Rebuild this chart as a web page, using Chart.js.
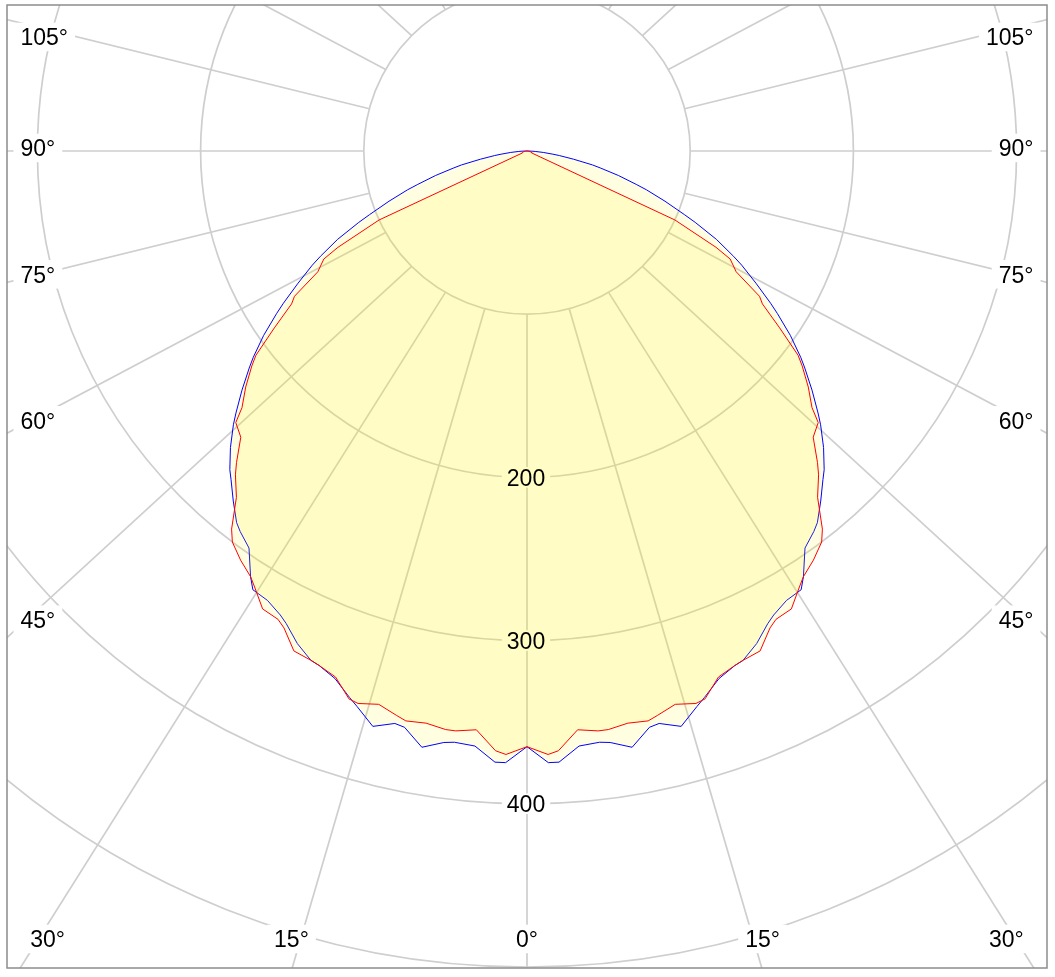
<!DOCTYPE html>
<html>
<head>
<meta charset="utf-8">
<title>Polar intensity diagram</title>
<script src="https://cdn.jsdelivr.net/npm/chart.js@4.4.1/dist/chart.umd.min.js"></script>
<style>
    html, body { margin: 0; padding: 0; background: #ffffff; overflow: hidden; }
    canvas { display: block; }
</style>
</head>
<body>
<canvas id="myChart" width="1055" height="977"></canvas>
<script>
// gamma angles (degrees from nadir) used for both planes
const angles = [0, 2, 3, 5, 7, 8, 10, 12, 13, 15, 17, 18, 20, 22, 23, 25, 27, 28, 30, 32, 33,
    35, 37, 38, 40, 42, 43, 45, 47, 48, 50, 52, 53, 55, 57, 58, 60, 62, 63, 65, 67, 68,
    70, 72, 73, 75, 77, 78, 80, 82, 83, 85, 87, 88, 90];

// C0 - C180 plane (red)
const planeC0 = [365, 370, 368, 356, 358, 358, 356, 357, 355, 351, 354, 353, 343, 340, 339,
    338, 328, 325, 324, 315, 311, 306, 300, 294, 277, 267, 261, 248, 244, 235, 225, 214, 208,
    189, 172, 168, 148, 141, 130, 100, 3, 3, 3, 3, 3, 3, 2, 2, 2, 1, 1, 1, 0, 0, 0];

// C90 - C270 plane (blue)
const planeC90 = [365, 375, 375, 366, 365, 366, 371, 361, 360, 365, 356, 352, 344, 340, 339,
    333, 325, 322, 318, 317, 311, 297, 292, 289, 280, 271, 267, 257, 246, 240, 228, 216, 210,
    197, 183, 176, 162, 149, 142, 128, 112, 104, 90, 77, 70, 58, 46, 41, 29, 20, 16, 10, 5, 3, 0];

const ringValues = [100, 200, 300, 400, 500, 600];
const ringLabels = [200, 300, 400];
const spokeAngles = [0, 15, 30, 45, 60, 75, 90, 105, 120, 135, 150, 165, 180];
const labelAngles = [0, 15, 30, 45, 60, 75, 90, 105];
const angleLabels = ["0°", "15°", "30°", "45°", "60°", "75°", "90°", "105°"];

const FONT = '23px "Liberation Sans", Arial, sans-serif';
const GRID = '#cecece';

let labelSpots = [];

// polar (gamma, intensity) -> x/y of the linear scales, 0° points down
function toXY(deg, value, side) {
    const a = deg * Math.PI / 180;
    return { x: side * value * Math.sin(a), y: -value * Math.cos(a) };
}

// closed outline: right half from 90° down to 0°, then left half back up to 90°
function outline(values) {
    let pts = [];
    for (let i = angles.length - 1; i >= 0; i--) pts.push(toXY(angles[i], values[i], 1));
    for (let i = 0; i < angles.length; i++) pts.push(toXY(angles[i], values[i], -1));
    return pts;
}

// white gap in the grid now, text later on top of the curves
function labelGap(ctx, text, left, base, padX, padY) {
    const w = ctx.measureText(text).width;
    ctx.fillStyle = '#ffffff';
    ctx.fillRect(left - padX, base - 16.5 - padY, w + padX * 2, 16.5 + padY * 2);
    labelSpots.push({ text, left, base });
}

const polarGrid = {
    id: 'polarGrid',
    beforeDatasetsDraw(chart) {
        const { ctx, chartArea: area, scales: { x, y } } = chart;
        const cx = x.getPixelForValue(0);
        const cy = y.getPixelForValue(0);
        const k = (x.getPixelForValue(100) - cx) / 100;
        labelSpots = [];

        ctx.save();
        ctx.beginPath();
        ctx.rect(area.left, area.top, area.width, area.height);
        ctx.clip();

        ctx.strokeStyle = GRID;
        ctx.lineWidth = 1.7;
        for (let r of ringValues) {
            ctx.beginPath();
            ctx.arc(cx, cy, r * k, 0, Math.PI * 2);
            ctx.stroke();
        }

        // spokes start on the first ring, slightly widened like the original
        const r0 = ringValues[0] * k;
        for (let deg of spokeAngles) {
            const a = deg * Math.PI / 180;
            const sides = (deg === 0 || deg === 180) ? [1] : [-1, 1];
            for (let side of sides) {
                const sx = side * Math.sin(a), sy = Math.cos(a);
                let dx = sx * 1.09, dy = sy;
                const len = Math.hypot(dx, dy);
                const x0 = cx + sx * r0, y0 = cy + sy * r0;
                ctx.beginPath();
                ctx.moveTo(x0, y0);
                ctx.lineTo(x0 + dx / len * 2000, y0 + dy / len * 2000);
                ctx.stroke();
            }
        }

        ctx.font = FONT;

        // ring values on the 0° spoke
        for (let v of ringLabels) {
            const text = String(v);
            const w = ctx.measureText(text).width;
            labelGap(ctx, text, cx - w / 2 - 1, cy + v * k + 8.2, 5, 2);
        }

        // angle labels along the frame
        const bottomMid = area.bottom - 29;
        labelAngles.forEach((deg, i) => {
            const text = angleLabels[i];
            const w = ctx.measureText(text).width;
            const a = deg * Math.PI / 180;
            const s = Math.sin(a), c = Math.cos(a);
            const sides = deg === 0 ? [0] : [-1, 1];
            for (let side of sides) {
                let left, mid;
                const rayDist = c > 0.01 ? (bottomMid - cy) * s / c : Infinity;
                if (deg === 0) {
                    left = cx - w / 2;
                    mid = bottomMid;
                } else if (cx - rayDist > area.left + 20) {
                    mid = bottomMid;
                    left = side < 0 ? cx - rayDist - 7 - w : cx + rayDist + 7;
                } else {
                    left = side < 0 ? area.left + 13.5 : area.right - 13.5 - w;
                    const inner = side < 0 ? cx - (left + w) : left - cx;
                    mid = cy + inner * c / s - 3;
                    mid = Math.max(mid, area.top + 32);
                }
                labelGap(ctx, text, left, mid + 8.2, 7, 6);
            }
        });

        ctx.restore();
    },
    afterDatasetsDraw(chart) {
        const { ctx } = chart;
        ctx.save();
        ctx.font = FONT;
        ctx.textBaseline = 'alphabetic';
        ctx.textAlign = 'left';
        ctx.fillStyle = '#000000';
        for (let spot of labelSpots) ctx.fillText(spot.text, spot.left, spot.base);
        ctx.restore();
    },
    afterDraw(chart) {
        const { ctx, chartArea: area } = chart;
        ctx.save();
        ctx.strokeStyle = '#8c8c8c';
        ctx.lineWidth = 1.5;
        ctx.strokeRect(area.left, area.top, area.width, area.height);
        ctx.restore();
    }
};

window.addEventListener("DOMContentLoaded", () => {
    const ctx = document.getElementById('myChart');
    const pxPerUnit = 1.632;

    new Chart(ctx, {
        type: 'scatter',
        data: {
            datasets: [{
                label: 'C0 - C180',
                data: outline(planeC0),
                showLine: true,
                borderColor: '#ff0000',
                borderWidth: 1,
                backgroundColor: 'rgba(255, 245, 0, 0.12)',
                fill: 'shape',
                pointRadius: 0,
                tension: 0
            }, {
                label: 'C90 - C270',
                data: outline(planeC90),
                showLine: true,
                borderColor: '#0000ff',
                borderWidth: 1,
                backgroundColor: 'rgba(255, 245, 0, 0.12)',
                fill: 'shape',
                pointRadius: 0,
                tension: 0
            }]
        },
        options: {
            responsive: false,
            animation: false,
            devicePixelRatio: 1,
            layout: { padding: { left: 7, top: 5, right: 8, bottom: 9 } },
            plugins: {
                legend: { display: false },
                tooltip: { enabled: false }
            },
            scales: {
                x: { type: 'linear', display: false, min: -520 / pxPerUnit, max: 520 / pxPerUnit },
                y: { type: 'linear', display: false, min: -817 / pxPerUnit, max: 146 / pxPerUnit }
            }
        },
        plugins: [polarGrid]
    });
});
</script>
</body>
</html>
